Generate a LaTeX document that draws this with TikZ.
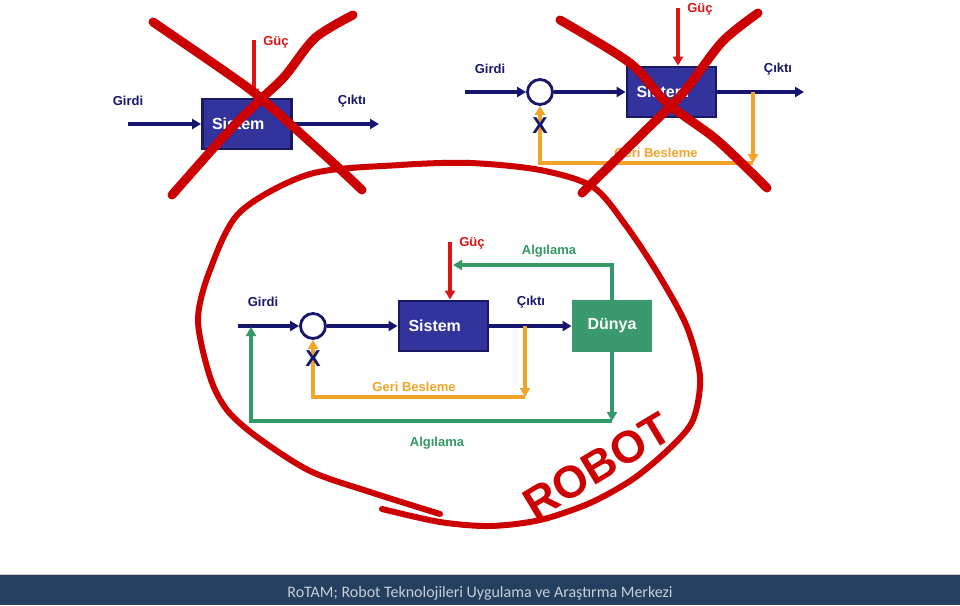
\documentclass[tikz,border=0pt]{standalone}
\usepackage{fontspec}
\setmainfont{Liberation Sans}
\newfontfamily\footfont{Carlito}
\usetikzlibrary{positioning, arrows.meta}

\definecolor{navyb}{RGB}{22,22,110}
\definecolor{boxline}{RGB}{24,24,100}
\definecolor{sysblue}{RGB}{51,51,158}
\definecolor{worldgrn}{RGB}{58,154,110}
\definecolor{grn}{RGB}{51,153,102}
\definecolor{orng}{RGB}{242,164,40}
\definecolor{gucred}{RGB}{220,20,20}
\definecolor{xred}{RGB}{204,0,0}
\definecolor{footblue}{RGB}{36,63,96}
\definecolor{footgrey}{RGB}{200,205,214}

\begin{document}
\begin{tikzpicture}[x=1pt, y=-1pt,
        lbl/.style = {font=\bfseries\fontsize{13}{15}\selectfont, text=#1, inner sep=0pt},
        box/.style = {rectangle, draw=boxline, fill=#1, line width=2.8pt,
                    minimum width=89pt, minimum height=50pt, text=white,
                    font=\bfseries\fontsize{16}{19}\selectfont},
        sysbox/.style = {box=sysblue, text width=70pt, align=left},
        sum/.style = {circle, draw=navyb, fill=white, line width=2.8pt,
                    minimum size=25pt, inner sep=0pt},
        xmark/.style = {lbl=navyb, font=\bfseries\fontsize{23}{25}\selectfont},
        flow/.style = {draw=#1, line width=3.2pt, -{Triangle[length=9pt,width=10pt]}},
        flow/.default = navyb,
        cross/.style = {draw=xred, line width=9pt, line cap=round, line join=round},
        ring/.style = {draw=xred, line width=6pt, line cap=round, line join=round}
                    ]
        \useasboundingbox (0,0) rectangle (960,605);
        % footer
        \fill[footblue] (0,575) rectangle (960,605);
        \draw[gray!40, line width=1pt] (0,574.5) -- (960,574.5);
        \node (foot) [font=\footfont\fontsize{16}{18}\selectfont, text=footgrey] at (480,593)
            {RoTAM; Robot Teknolojileri Uygulama ve Araştırma Merkezi};
        %
        % open loop
        \node (sysA) [sysbox] at (247,124) {Sistem};
        \coordinate (inA) at (128,124);
        \coordinate (outA) at (379,124);
        \coordinate (pwrA) at (254,40);
        \draw[flow] (inA) -- (sysA);
        \draw[flow] (sysA) -- (outA);
        \draw[flow=gucred] (pwrA) -- (pwrA |- sysA.north);
        \node (girdiA) [lbl=navyb] at (128,101) {Girdi};
        \node (ciktiA) [lbl=navyb] at (352,101) {Çıktı};
        \node (gucA) [lbl=gucred] at (276,42) {Güç};
        %
        % closed loop
        \node (sumB) [sum] at (540,92) {};
        \node (sysB) [sysbox] at (671.5,92) {Sistem};
        \coordinate (inB) at (465,92);
        \coordinate (outB) at (804,92);
        \coordinate (tapB) at (753,92);
        \coordinate (fbB) at (753,163);
        \coordinate (pwrB) at (678,8);
        \draw[flow] (inB) -- (sumB);
        \draw[flow] (sumB) -- (sysB);
        \draw[flow] (sysB) -- (outB);
        \draw[flow=gucred] (pwrB) -- (pwrB |- sysB.north);
        \draw[flow=orng] (tapB) -- (fbB);
        \draw[flow=orng] (fbB) -| (sumB.south);
        \node (girdiB) [lbl=navyb] at (490,69) {Girdi};
        \node (ciktiB) [lbl=navyb] at (778,69) {Çıktı};
        \node (gucB) [lbl=gucred] at (700,9) {Güç};
        \node (xB) [xmark, below=12pt of sumB] {X};
        \node (geriB) [lbl=orng] at (656,153) {Geri Besleme};
        %
        % robot
        \node (sumC) [sum] at (313,326) {};
        \node (sysC) [sysbox] at (443.5,326) {Sistem};
        \node (dunya) [box=worldgrn, draw=worldgrn, minimum width=78pt] at (612,326) {Dünya};
        \coordinate (inC) at (238,326);
        \coordinate (pwrC) at (450,242);
        \coordinate (tapC) at (525,326);
        \coordinate (fbC) at (525,397);
        \coordinate (senseT) at (453,265);
        \coordinate (senseB) at (612,421);
        \coordinate (senseIn) at (251,327);
        \draw[flow] (inC) -- (sumC);
        \draw[flow] (sumC) -- (sysC);
        \draw[flow] (sysC) -- (dunya);
        \draw[flow=gucred] (pwrC) -- (pwrC |- sysC.north);
        \draw[flow=orng] (tapC) -- (fbC);
        \draw[flow=orng] (fbC) -| (sumC.south);
        \draw[flow=grn] (dunya.north) |- (senseT);
        \draw[flow=grn] (dunya.south) -- (senseB);
        \draw[flow=grn] (senseB) -| (senseIn);
        \node (girdiC) [lbl=navyb] at (263,302) {Girdi};
        \node (ciktiC) [lbl=navyb] at (531,302) {Çıktı};
        \node (gucC) [lbl=gucred] at (472,243) {Güç};
        \node (algT) [lbl=grn] at (549,251) {Algılama};
        \node (xC) [xmark, below=11pt of sumC] {X};
        \node (geriC) [lbl=orng] at (414,387) {Geri Besleme};
        \node (algB) [lbl=grn] at (437,443) {Algılama};
        %
        % crossed out
        \draw[cross] plot[smooth] coordinates {(153,22) (230,75) (263,100) (330,160) (362,190)};
        \draw[cross] plot[smooth] coordinates {(353,15) (315,38) (285,76) (260,100) (227,133) (172,195)};
        \draw[cross] plot[smooth] coordinates {(560,20) (630,63) (667,103) (717,140) (767,188)};
        \draw[cross] plot[smooth] coordinates {(758,13) (722,42) (683,93) (643,133) (582,193)};
        %
        % robot ring
        \draw[ring] plot[smooth] coordinates {(440,514) (370,492) (310,471) (257,437) (227,410)
            (210,377) (198,320) (210,270) (240,212) (310,174) (400,165) (470,163) (540,170)
            (593,187) (627,227) (660,277) (687,327) (700,377) (693,420) (670,448) (633,479)
            (590,503) (540,520) (490,526) (440,522) (382,509)};
        \node (robot) [rotate=31, font=\bfseries\fontsize{45}{50}\selectfont, text=xred] at (597,466) {ROBOT};
    \end{tikzpicture}
\end{document}
